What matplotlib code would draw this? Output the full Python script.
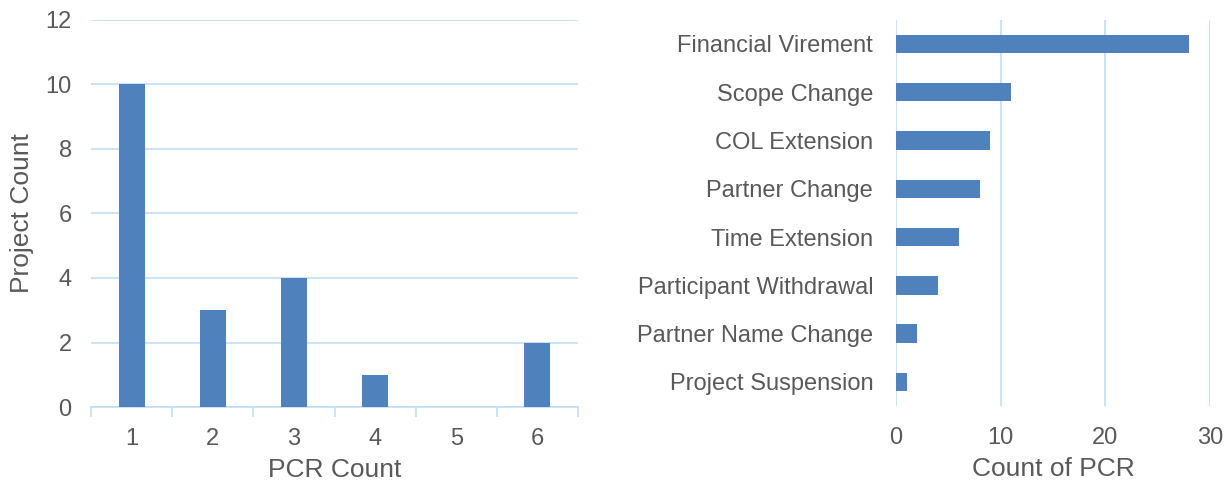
import numpy as np
import matplotlib
matplotlib.use("Agg")
import matplotlib.pyplot as plt

plt.rcParams['font.family'] = ['Liberation Sans', 'DejaVu Sans']

# left chart: how many projects had N PCRs
pcr_counts = [1, 2, 3, 4, 5, 6]
project_counts = [10, 3, 4, 1, 0, 2]

# right chart: PCR types
pcr_types = ["Financial Virement", "Scope Change", "COL Extension", "Partner Change",
             "Time Extension", "Participant Withdrawal", "Partner Name Change",
             "Project Suspension"]
pcr_type_counts = [28, 11, 9, 8, 6, 4, 2, 1]

bar_col = "#4F81BD"
grid_col = "#C0DEF6"
txt_col = "#595959"
fs = 17    # tick labels
lfs = 19   # axis titles

fig = plt.figure(figsize=(12.31, 4.84), dpi=100)

# --- left: column chart
ax1 = fig.add_axes([0.074, 0.159, 0.3955, 0.8])
x = np.arange(len(pcr_counts))
ax1.bar(x, project_counts, width=0.32, color=bar_col, zorder=3)
ax1.set_xlim(-0.5, len(pcr_counts) - 0.5)
ax1.set_ylim(0, 12)
ax1.set_yticks(range(0, 13, 2))
ax1.set_xticks(x)
ax1.set_xticklabels([str(v) for v in pcr_counts])
ax1.set_xticks(np.arange(-0.5, len(pcr_counts)), minor=True)
ax1.tick_params(axis='x', which='major', length=0, pad=15, labelsize=fs, labelcolor=txt_col)
ax1.tick_params(axis='x', which='minor', length=7, width=1.2, color=grid_col, direction='out')
ax1.tick_params(axis='y', length=0, pad=14, labelsize=fs, labelcolor=txt_col)
ax1.grid(axis='y', color=grid_col, linewidth=1.2, zorder=0)
for s in ['top', 'right', 'left']:
    ax1.spines[s].set_visible(False)
ax1.spines['bottom'].set_color(grid_col)
ax1.spines['bottom'].set_linewidth(1.2)
ax1.set_xlabel("PCR Count", fontsize=lfs, color=txt_col, labelpad=6)
ax1.set_ylabel("Project Count", fontsize=lfs, color=txt_col, labelpad=8)

# --- right: horizontal bar chart
ax2 = fig.add_axes([0.7279, 0.161, 0.2551, 0.798])
y = np.arange(len(pcr_types))
ax2.barh(y, pcr_type_counts, height=0.38, color=bar_col, zorder=3)
ax2.set_ylim(len(pcr_types) - 0.5, -0.5)
ax2.set_xlim(0, 30)
ax2.set_xticks(range(0, 31, 10))
ax2.set_yticks(y)
ax2.set_yticklabels(pcr_types)
ax2.tick_params(axis='both', length=0, labelsize=fs, labelcolor=txt_col)
ax2.tick_params(axis='y', pad=16.5)
ax2.tick_params(axis='x', pad=15)
ax2.grid(axis='x', color=grid_col, linewidth=1.2, zorder=0)
for s in ax2.spines.values():
    s.set_visible(False)
ax2.set_xlabel("Count of PCR", fontsize=lfs, color=txt_col, labelpad=6)

fig.savefig("out.png", dpi=100)
